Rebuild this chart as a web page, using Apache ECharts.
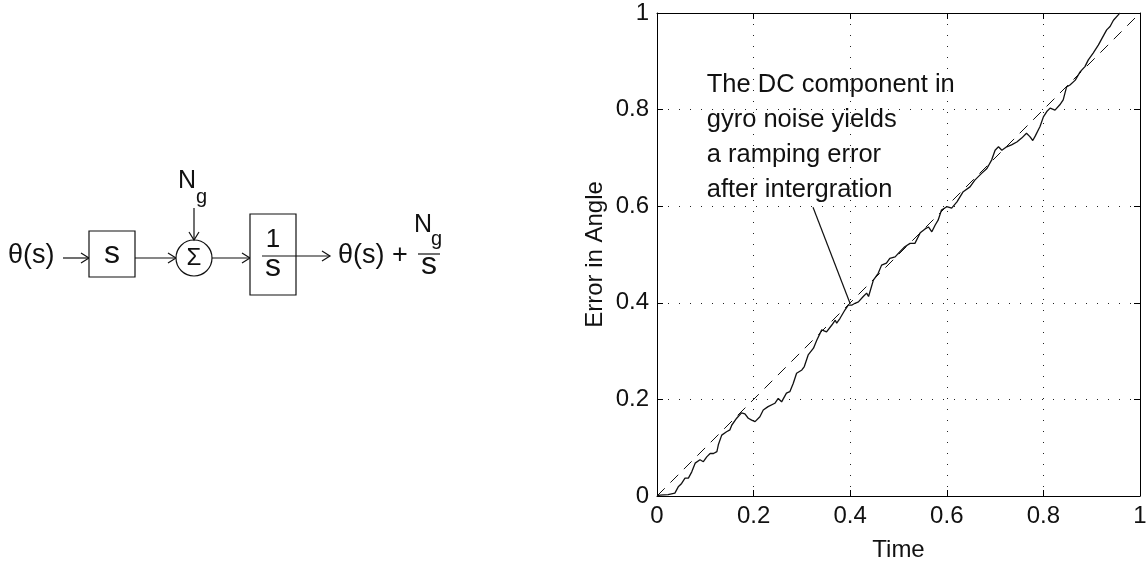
<!DOCTYPE html>
<html>
<head>
<meta charset="utf-8">
<script src="https://cdn.jsdelivr.net/npm/echarts@6/dist/echarts.min.js"></script>
<style>
html, body { margin: 0; padding: 0; background: #fff; }
#main { width: 1146px; height: 563px; }
</style>
</head>
<body>
<div id="main"></div>
<script>
// measured gyro error (solid line)
var errX = [0, 0.006, 0.023, 0.037, 0.044, 0.051, 0.058, 0.065, 0.072, 0.079, 0.089, 0.096, 0.103, 0.110, 0.117, 0.124,
    0.127, 0.134, 0.144, 0.151, 0.155, 0.165, 0.175, 0.182, 0.189, 0.196, 0.203, 0.213, 0.220, 0.230, 0.244, 0.251,
    0.258, 0.268, 0.275, 0.282, 0.289, 0.300, 0.305, 0.313, 0.324, 0.331, 0.341, 0.351, 0.362, 0.369, 0.372, 0.379,
    0.389, 0.396, 0.403, 0.410, 0.417, 0.427, 0.434, 0.438, 0.448, 0.458, 0.465, 0.475, 0.482, 0.493, 0.503, 0.513,
    0.524, 0.534, 0.545, 0.555, 0.562, 0.569, 0.576, 0.582, 0.589, 0.600, 0.610, 0.621, 0.634, 0.648, 0.658, 0.672,
    0.683, 0.693, 0.700, 0.707, 0.714, 0.724, 0.734, 0.745, 0.755, 0.765, 0.772, 0.778, 0.783, 0.793, 0.800, 0.807,
    0.814, 0.824, 0.834, 0.841, 0.848, 0.855, 0.866, 0.876, 0.886, 0.893, 0.903, 0.914, 0.921, 0.931, 0.938, 0.945,
    0.955, 0.958];
var errY = [0, 0.002, 0.003, 0.006, 0.019, 0.026, 0.037, 0.037, 0.050, 0.068, 0.075, 0.071, 0.081, 0.088, 0.088, 0.092,
    0.106, 0.126, 0.133, 0.137, 0.147, 0.161, 0.172, 0.170, 0.161, 0.157, 0.154, 0.164, 0.178, 0.185, 0.192, 0.202,
    0.195, 0.213, 0.216, 0.233, 0.254, 0.261, 0.268, 0.292, 0.306, 0.323, 0.344, 0.340, 0.354, 0.364, 0.358, 0.368,
    0.385, 0.395, 0.395, 0.399, 0.402, 0.413, 0.420, 0.413, 0.447, 0.461, 0.478, 0.482, 0.492, 0.495, 0.506, 0.516,
    0.523, 0.523, 0.545, 0.553, 0.557, 0.547, 0.561, 0.571, 0.592, 0.599, 0.596, 0.609, 0.630, 0.640, 0.654, 0.668,
    0.678, 0.696, 0.716, 0.723, 0.716, 0.723, 0.727, 0.733, 0.741, 0.751, 0.744, 0.736, 0.745, 0.765, 0.785, 0.796,
    0.803, 0.799, 0.810, 0.820, 0.847, 0.851, 0.861, 0.878, 0.889, 0.903, 0.917, 0.934, 0.947, 0.965, 0.972, 0.985,
    0.996, 1.000];
// ideal ramp (dashed line)
var rampX = [0, 1];
var rampY = [0, 1];
// annotation pointer
var pointerX = [0.323, 0.400];
var pointerY = [0.598, 0.398];
var noteLines = ['The DC component in', 'gyro noise yields', 'a ramping error', 'after intergration'];
var notePos = [0.103, 0.887];
// axes
var axisMin = 0, axisMax = 1, axisStep = 0.2;
var xName = 'Time';
var yName = 'Error in Angle';

var FONT = 'Liberation Sans, Arial, Helvetica, sans-serif';
var INK = '#111';

function pairs(xs, ys) {
    return xs.map(function (x, i) { return [x, ys[i]]; });
}

// block diagram pieces (plain drawing, not data)
var lineStyle = { stroke: INK, lineWidth: 1.2, fill: null };
function seg(x1, y1, x2, y2) {
    return { type: 'line', shape: { x1: x1, y1: y1, x2: x2, y2: y2 }, style: lineStyle };
}
function headRight(x, y) {
    return { type: 'polyline', shape: { points: [[x - 8, y - 5], [x, y], [x - 8, y + 5]] }, style: lineStyle };
}
function headDown(x, y) {
    return { type: 'polyline', shape: { points: [[x - 5, y - 8], [x, y], [x + 5, y - 8]] }, style: lineStyle };
}
function txt(s, x, y, size, align) {
    return {
        type: 'text', x: x, y: y,
        style: {
            text: s, fontSize: size, fontFamily: FONT, fill: INK,
            align: align || 'center', textAlign: align || 'center',
            verticalAlign: 'middle', textVerticalAlign: 'middle'
        }
    };
}
function box(x, y, w, h) {
    return { type: 'rect', shape: { x: x, y: y, width: w, height: h }, style: { stroke: INK, lineWidth: 1.2, fill: '#fff' } };
}

var diagram = [
    txt('\u03b8(s)', 8, 256, 27, 'left'),
    seg(63, 258, 89, 258), headRight(89, 258),
    box(89, 231, 46, 46),
    txt('s', 112, 254, 32),
    seg(135, 258, 176, 258), headRight(176, 258),
    { type: 'circle', shape: { cx: 194, cy: 258, r: 18 }, style: { stroke: INK, lineWidth: 1.2, fill: '#fff' } },
    txt('\u03a3', 194, 258, 24),
    txt('N', 178, 181, 25, 'left'),
    txt('g', 196, 197, 20, 'left'),
    seg(194, 208, 194, 240), headDown(194, 240),
    seg(212, 258, 250, 258), headRight(250, 258),
    box(250, 214, 46, 81),
    txt('1', 273, 240, 26),
    seg(262, 256, 330, 256), headRight(330, 256),
    txt('s', 273, 267, 32),
    txt('\u03b8(s) + ', 338, 256, 27, 'left'),
    txt('N', 414, 225, 25, 'left'),
    txt('g', 431, 239, 20, 'left'),
    seg(418, 254, 440, 254),
    txt('s', 429, 265, 32)
];

var myChart = echarts.init(document.getElementById('main'));

var tickLabel = { fontSize: 24, fontFamily: FONT, color: INK };
var dotted = { show: true, lineStyle: { color: '#222', width: 1, type: [1, 10] } };
var frame = { show: true, onZero: false, lineStyle: { color: '#000', width: 1 } };
var innerTick = { show: true, inside: true, length: 6, lineStyle: { color: '#000' } };

var option = {
    animation: false,
    backgroundColor: '#fff',
    grid: { left: 657, right: 6, top: 13, bottom: 67, outerBoundsMode: 'none' },
    xAxis: [{
        type: 'value', min: axisMin, max: axisMax, interval: axisStep,
        name: xName, nameLocation: 'middle', nameGap: 42,
        nameTextStyle: { fontSize: 24, fontFamily: FONT, color: INK },
        axisLine: frame, axisTick: innerTick, splitLine: dotted,
        axisLabel: Object.assign({ margin: 8 }, tickLabel)
    }, {
        type: 'value', position: 'top', min: axisMin, max: axisMax, interval: axisStep,
        axisLine: frame, axisTick: innerTick, splitLine: { show: false }, axisLabel: { show: false }
    }],
    yAxis: [{
        type: 'value', min: axisMin, max: axisMax, interval: axisStep,
        name: yName, nameLocation: 'middle', nameGap: 50,
        nameTextStyle: { fontSize: 24, fontFamily: FONT, color: INK },
        axisLine: frame, axisTick: innerTick, splitLine: dotted,
        axisLabel: Object.assign({ margin: 8 }, tickLabel)
    }, {
        type: 'value', position: 'right', min: axisMin, max: axisMax, interval: axisStep,
        axisLine: frame, axisTick: innerTick, splitLine: { show: false }, axisLabel: { show: false }
    }],
    series: [{
        name: 'ramp', type: 'line', showSymbol: false, silent: true,
        data: pairs(rampX, rampY),
        lineStyle: { color: INK, width: 1, type: [11, 8] }
    }, {
        name: 'error', type: 'line', showSymbol: false, silent: true,
        data: pairs(errX, errY),
        lineStyle: { color: INK, width: 1.3 }
    }, {
        name: 'pointer', type: 'line', showSymbol: false, silent: true,
        data: pairs(pointerX, pointerY),
        lineStyle: { color: INK, width: 1.2 }
    }],
    graphic: diagram
};
myChart.setOption(option);

// annotation text placed at its data anchor
var p = myChart.convertToPixel({ gridIndex: 0 }, notePos);
myChart.setOption({
    graphic: diagram.concat([{
        type: 'text', x: p[0], y: p[1],
        style: {
            text: noteLines.join('\n'), fontSize: 25.5, fontFamily: FONT, fill: INK,
            lineHeight: 35, align: 'left', textAlign: 'left', verticalAlign: 'top', textVerticalAlign: 'top'
        }
    }])
});
</script>
</body>
</html>
